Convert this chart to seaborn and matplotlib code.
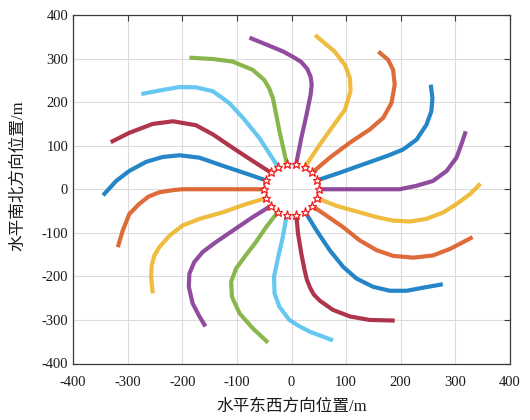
import matplotlib
matplotlib.use("Agg")
import matplotlib.pyplot as plt
import numpy as np
import pandas as pd
import seaborn as sns

# Trajectories leaving the ring, listed by launch bearing (deg, counter-clockwise from east)
x020 = [47, 88.5, 131, 174, 204, 229, 247, 256, 258, 255]
y020 = [20.5, 38, 57, 76, 91, 114, 148, 179, 209, 240]
x040 = [38.3, 70, 107, 143, 168, 183, 189, 186, 177, 159]
y040 = [38.6, 72.5, 107, 137, 164, 198, 240, 274, 297, 316]
x060 = [25, 52, 76, 98, 108, 107, 98, 79, 61, 43]
y060 = [52, 103, 145, 183, 225, 255, 285, 316, 335, 354]
x080 = [8.7, 18, 27.5, 35, 37, 35, 29, 18, 4, -15, -34, -77]
y080 = [59, 118, 171, 217, 240, 258, 276, 292, 303, 316, 326, 348]
x100 = [-8.7, -22, -34, -41, -50, -71, -107.5, -144, -187]
y100 = [59, 133, 209, 232, 251, 274, 293, 299, 302]
x120 = [-25, -59, -89, -114, -144, -175, -205, -236, -275]
y120 = [52, 118, 164, 198, 225, 234, 234.5, 228, 218.5]
x140 = [-38.3, -71, -107.5, -144, -175, -217, -254, -297, -331]
y140 = [38.6, 65, 95, 126, 147, 156, 150, 129.5, 108]
x160 = [-47, -83, -126, -168.5, -205, -236, -266, -297, -321, -345]
y160 = [20.5, 36, 54, 72.5, 78, 74, 63, 42, 19, -14]
x180 = [-50, -150, -199, -217, -242, -262, -280, -297, -309, -318]
y180 = [0, 0, 0, -2, -7, -17, -35, -57, -95, -133]
x200 = [-47, -83, -126, -168.5, -199, -223, -242, -251, -256, -257, -254]
y200 = [-20.5, -34, -53, -68, -83, -106, -133, -152, -175, -201, -239]
x220 = [-38.3, -71, -107.5, -138, -162.5, -178, -187, -188, -181, -168.5, -157.5]
y220 = [-38.6, -64, -95, -121, -144, -167, -194, -224, -262, -292, -315]
x240 = [-25, -46.5, -65, -86, -101.5, -110.6, -109, -95, -71, -43]
y240 = [-52, -87, -121, -155.5, -182, -212.5, -247, -285, -319, -352]
x260 = [-8.7, -16, -25, -32, -31, -22, -4, 15, 33.5, 76]
y260 = [-59, -110, -159, -201, -239, -270, -300, -315, -327, -347]
x280 = [8.7, 12, 18, 24, 28, 34, 41, 52, 76, 107, 143, 189]
y280 = [-59, -102, -148, -186, -207, -226, -242, -256, -277, -292, -300, -301.5]
x300 = [25, 46, 70, 94.5, 119, 149.5, 180, 211, 241, 277]
y300 = [-52, -95, -140, -178, -205, -224, -233, -233, -226, -218]
x320 = [38.3, 64, 94.5, 125, 156, 186, 223, 259, 290, 331.5]
y320 = [-38.6, -60.5, -87, -117.5, -140, -153, -157, -152, -137, -110]
x340 = [47, 82, 119, 156, 186, 217, 247, 278, 302, 327, 346]
y340 = [-20.5, -38, -51, -64, -72, -74, -68, -53, -34, -11, 13]
x360 = [50, 150, 198, 229, 259, 284, 302, 311, 319]
y360 = [0, 0, 0, 8, 19, 42, 72.5, 103, 133]

tracks = [
    ("020", x020, y020), ("040", x040, y040), ("060", x060, y060),
    ("080", x080, y080), ("100", x100, y100), ("120", x120, y120),
    ("140", x140, y140), ("160", x160, y160), ("180", x180, y180),
    ("200", x200, y200), ("220", x220, y220), ("240", x240, y240),
    ("260", x260, y260), ("280", x280, y280), ("300", x300, y300),
    ("320", x320, y320), ("340", x340, y340), ("360", x360, y360),
]

# default seven-colour cycle
cycle = ["#0072BD", "#D95319", "#EDB120", "#7E2F8E",
         "#77AC30", "#4DBEEE", "#A2142F"]

ticks = [-400, -300, -200, -100, 0, 100, 200, 300, 400]

rows = []
for name, xs, ys in tracks:
    for i, (xv, yv) in enumerate(zip(xs, ys)):
        rows.append({"track": name, "step": i, "x": xv, "y": yv})
df = pd.DataFrame(rows)
order = [t[0] for t in tracks]
palette = {name: cycle[k % len(cycle)] for k, name in enumerate(order)}

sns.set_theme(style="white")
plt.rcParams["font.family"] = ["Liberation Serif", "Noto Sans CJK SC"]
plt.rcParams["axes.unicode_minus"] = False

fig = plt.figure(figsize=(5.3, 4.2), dpi=100)
ax = fig.add_axes([73 / 530, 1 - 363.5 / 420, 437 / 530, 348.5 / 420])

sns.lineplot(data=df, x="x", y="y", hue="track", hue_order=order,
             palette=palette, units="track", estimator=None, sort=False,
             legend=False, linewidth=3.0, alpha=0.86, ax=ax)
for line in ax.lines:
    line.set_solid_capstyle("butt")
    line.set_solid_joinstyle("round")

# launch points on the ring
sx = [t[1][0] for t in tracks]
sy = [t[2][0] for t in tracks]
ax.plot(sx, sy, ls="none", marker="*", ms=6.5, mfc="white",
        mec="#F41C1C", mew=0.9, zorder=5)

ax.set_xlim(-400, 400)
ax.set_ylim(-400, 400)
ax.set_xticks(ticks)
ax.set_yticks(ticks)
ax.set_xticklabels([str(t) for t in ticks])
ax.set_yticklabels([str(t) for t in ticks])
ax.grid(True, color="#DCDCDC", linewidth=0.8)
ax.set_axisbelow(True)
for sp in ax.spines.values():
    sp.set_color("#3a3a3a")
    sp.set_linewidth(0.9)
ax.tick_params(axis="both", direction="in", length=4, width=0.8,
               color="#3a3a3a", labelcolor="#1a1a1a", labelsize=10.5,
               top=True, right=True)
ax.tick_params(axis="x", pad=9)
ax.tick_params(axis="y", pad=3.5)

ax.set_xlabel("水平东西方向位置/m", fontsize=12, color="#1a1a1a")
ax.set_ylabel("水平南北方向位置/m", fontsize=12, color="#1a1a1a")
ax.xaxis.label.set_va("center")
ax.yaxis.label.set_va("center")
ax.xaxis.set_label_coords(0.5, -0.125)
ax.yaxis.set_label_coords(-0.126, 0.539)

fig.savefig("out.png", dpi=100)
